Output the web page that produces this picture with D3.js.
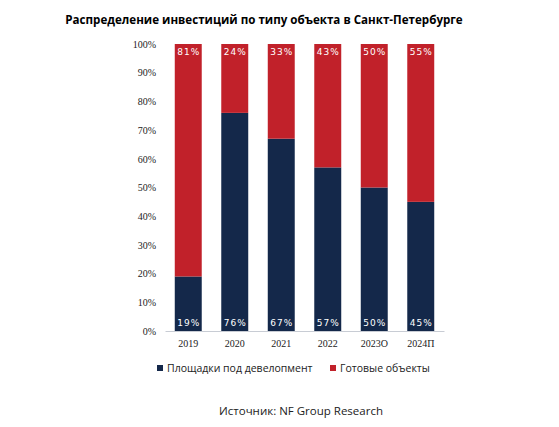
<!DOCTYPE html>
<html>
<head>
<meta charset="utf-8">
<script src="https://cdn.jsdelivr.net/npm/d3@7"></script>
<style>
body { margin: 0; background: #fff; }
</style>
</head>
<body>
<div id="chart"></div>
<script>
// данные
var years = ["2019", "2020", "2021", "2022", "2023О", "2024П"];
var plots = [19, 76, 67, 57, 50, 45];      // Площадки под девелопмент
var ready = [81, 24, 33, 43, 50, 55];      // Готовые объекты
var yTicks = [0, 10, 20, 30, 40, 50, 60, 70, 80, 90, 100];

var navy = "#14284a", red = "#c1212a";

var width = 559, height = 427;
var svg = d3.select("#chart").append("svg")
  .attr("width", width).attr("height", height);

var x = d3.scaleBand().domain(years).range([165, 444]).paddingInner(0.42).paddingOuter(0.21);
var y = d3.scaleLinear().domain([0, 100]).range([331, 44]);

svg.append("text")
  .attr("x", 264).attr("y", 24)
  .attr("text-anchor", "middle")
  .style("font-family", "'Open Sans', sans-serif")
  .style("font-weight", "bold")
  .style("font-size", "11.6px")
  .text("Распределение инвестиций по типу объекта в Санкт-Петербурге");

// ось Y
var yAxis = svg.append("g")
  .attr("transform", "translate(158,0)")
  .call(d3.axisLeft(y).tickValues(yTicks).tickSize(0).tickFormat(function(d) { return d + "%"; }));
yAxis.select(".domain").remove();
yAxis.selectAll("text")
  .attr("x", -2)
  .style("font-family", "'Liberation Serif', serif")
  .style("font-size", "10px")
  .attr("fill", "#222");

var rows = years.map(function(d, i) { return {year: d, a: plots[i], b: ready[i]}; });

svg.append("g").selectAll("rect.a").data(rows).enter().append("rect")
  .attr("x", function(d) { return x(d.year); })
  .attr("width", x.bandwidth())
  .attr("y", function(d) { return y(d.a); })
  .attr("height", function(d) { return y(0) - y(d.a); })
  .attr("fill", navy);

svg.append("g").selectAll("rect.b").data(rows).enter().append("rect")
  .attr("x", function(d) { return x(d.year); })
  .attr("width", x.bandwidth())
  .attr("y", function(d) { return y(d.a + d.b); })
  .attr("height", function(d) { return y(d.a) - y(d.a + d.b); })
  .attr("fill", red);

var lbl = svg.append("g")
  .style("font-family", "'DejaVu Sans', sans-serif")
  .style("font-size", "9px")
  .style("letter-spacing", "1px")
  .attr("fill", "#fff")
  .attr("text-anchor", "middle");

lbl.selectAll("text.a").data(rows).enter().append("text")
  .attr("x", function(d) { return x(d.year) + x.bandwidth() / 2 + 0.5; })
  .attr("y", y(0) - 5)
  .text(function(d) { return d.a + "%"; });

lbl.selectAll("text.b").data(rows).enter().append("text")
  .attr("x", function(d) { return x(d.year) + x.bandwidth() / 2 + 0.5; })
  .attr("y", y(100) + 11)
  .text(function(d) { return d.b + "%"; });

// ось X
var xAxis = svg.append("g")
  .attr("transform", "translate(0," + y(0) + ")")
  .call(d3.axisBottom(x).tickSize(0).tickSizeOuter(0));
xAxis.select(".domain").attr("stroke", "#c8ccd4");
xAxis.selectAll("text")
  .attr("dy", "1.3em")
  .style("font-family", "'Liberation Serif', serif")
  .style("font-size", "10px")
  .attr("fill", "#222");

// легенда
var legend = [
  {name: "Площадки под девелопмент", color: navy, x: 157},
  {name: "Готовые объекты", color: red, x: 330}
];
var lg = svg.append("g").selectAll("g").data(legend).enter().append("g")
  .attr("transform", function(d) { return "translate(" + d.x + ",365)"; });
lg.append("rect").attr("width", 6).attr("height", 6).attr("fill", function(d) { return d.color; });
lg.append("text")
  .attr("x", 10).attr("y", 7)
  .style("font-family", "'Open Sans', sans-serif")
  .style("font-size", "10.5px")
  .attr("fill", "#222")
  .text(function(d) { return d.name; });

svg.append("text")
  .attr("x", 301).attr("y", 415)
  .attr("text-anchor", "middle")
  .style("font-family", "'Open Sans', sans-serif")
  .style("font-size", "11.5px")
  .attr("fill", "#222")
  .text("Источник: NF Group Research");
</script>
</body>
</html>
